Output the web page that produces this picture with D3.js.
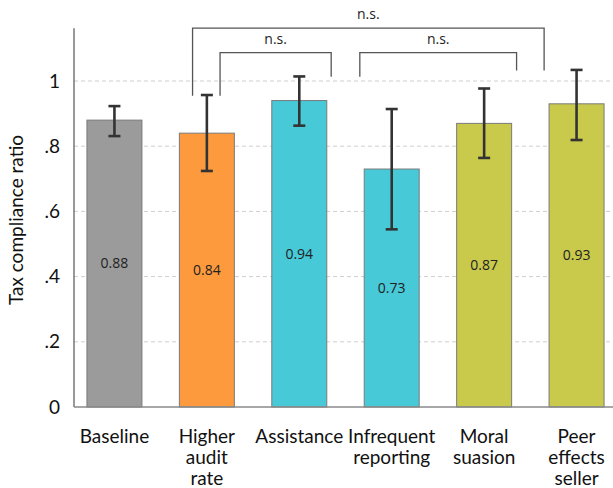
<!DOCTYPE html>
<html>
<head>
<meta charset="utf-8">
<script src="https://cdn.jsdelivr.net/npm/d3@7"></script>
<style>
  html, body { margin: 0; padding: 0; background: #fff; }
  svg { display: block; }
</style>
</head>
<body>
<svg id="chart" width="613" height="488"></svg>
<script>
// Treatment groups and their mean compliance ratios
const categories = ["Baseline", "Higher audit rate", "Assistance", "Infrequent reporting", "Moral suasion", "Peer effects seller"];
const categoryLines = [["Baseline"], ["Higher", "audit", "rate"], ["Assistance"], ["Infrequent", "reporting"], ["Moral", "suasion"], ["Peer", "effects", "seller"]];
const means = [0.88, 0.84, 0.94, 0.73, 0.87, 0.93];
const ciLow = [0.831, 0.724, 0.863, 0.545, 0.764, 0.819];
const ciHigh = [0.923, 0.957, 1.014, 0.914, 0.977, 1.034];
const groupColors = ["#9b9b9b", "#fd9a3d", "#47c9d8", "#47c9d8", "#c9c94c", "#c9c94c"];
const yTicks = [0, 0.2, 0.4, 0.6, 0.8, 1];
const yTickLabels = ["0", ".2", ".4", ".6", ".8", "1"];

// Significance brackets between groups (leg ends and bar height in data units)
const brackets = [
  { from: "Higher audit rate", fromSide: -0.26, to: "Peer effects seller", toSide: -0.59, top: 1.162, leftEnd: 0.955, rightEnd: 1.032, label: "n.s." },
  { from: "Higher audit rate", fromSide: 0.24, to: "Assistance", toSide: 0.58, top: 1.087, leftEnd: 0.955, rightEnd: 1.013, label: "n.s." },
  { from: "Infrequent reporting", fromSide: -0.58, to: "Moral suasion", toSide: 0.59, top: 1.087, leftEnd: 1.013, rightEnd: 1.032, label: "n.s." }
];

const svg = d3.select("#chart");

const x = d3.scaleBand()
  .domain(categories)
  .range([74, 617])
  .paddingInner(0.405)
  .paddingOuter(0.14);

const y = d3.scaleLinear().domain([0, 1]).range([407, 81]);

// Dashed horizontal gridlines
svg.append("g")
  .selectAll("line")
  .data(yTicks.filter(d => d > 0))
  .join("line")
  .attr("x1", 74).attr("x2", 613)
  .attr("y1", d => y(d)).attr("y2", d => y(d))
  .attr("stroke", "#cfcfcf")
  .attr("stroke-width", 1)
  .attr("stroke-dasharray", "4,3");

// Y axis
const yAxis = d3.axisLeft(y)
  .tickValues(yTicks)
  .tickFormat((d, i) => yTickLabels[i])
  .tickSize(0)
  .tickPadding(14);
const gy = svg.append("g").attr("transform", "translate(74,0)").call(yAxis);
gy.select(".domain").remove();
gy.selectAll("text")
  .attr("font-family", "Lato, 'Open Sans', sans-serif")
  .attr("font-size", 19)
  .attr("fill", "#111");
svg.append("line")
  .attr("x1", 74).attr("x2", 74)
  .attr("y1", y(1.162)).attr("y2", y(0))
  .attr("stroke", "#555").attr("stroke-width", 1.2);

// Bars
const bw = x.bandwidth();
svg.append("g")
  .selectAll("rect")
  .data(categories)
  .join("rect")
  .attr("x", d => x(d))
  .attr("width", bw)
  .attr("y", (d, i) => y(means[i]))
  .attr("height", (d, i) => y(0) - y(means[i]))
  .attr("fill", (d, i) => groupColors[i])
  .attr("stroke", "#7a7a7a")
  .attr("stroke-width", 1);

// X axis baseline
svg.append("line")
  .attr("x1", 74).attr("x2", 613)
  .attr("y1", y(0)).attr("y2", y(0))
  .attr("stroke", "#8a8a8a").attr("stroke-width", 1.6);

// Error bars
const eb = svg.append("g").attr("stroke", "#333").attr("stroke-width", 2.6);
categories.forEach((c, i) => {
  const cx = x(c) + bw / 2;
  eb.append("line").attr("x1", cx).attr("x2", cx).attr("y1", y(ciLow[i])).attr("y2", y(ciHigh[i]));
  eb.append("line").attr("x1", cx - 6).attr("x2", cx + 6).attr("y1", y(ciLow[i])).attr("y2", y(ciLow[i]));
  eb.append("line").attr("x1", cx - 6).attr("x2", cx + 6).attr("y1", y(ciHigh[i])).attr("y2", y(ciHigh[i]));
});

// Value labels in the middle of each bar
svg.append("g")
  .selectAll("text")
  .data(categories)
  .join("text")
  .attr("x", d => x(d) + bw / 2)
  .attr("y", (d, i) => y(means[i] / 2))
  .attr("dy", "0.35em")
  .attr("text-anchor", "middle")
  .attr("font-family", "'Open Sans', sans-serif")
  .attr("font-size", 14)
  .attr("fill", "#222")
  .text((d, i) => d3.format(".2f")(means[i]));

// Category labels
const cl = svg.append("g")
  .attr("font-family", "Lato, 'Open Sans', sans-serif")
  .attr("font-size", 19)
  .attr("fill", "#111")
  .attr("text-anchor", "middle");
categories.forEach((c, i) => {
  const t = cl.append("text").attr("x", x(c) + bw / 2).attr("y", 443);
  categoryLines[i].forEach((line, j) => {
    t.append("tspan").attr("x", x(c) + bw / 2).attr("dy", j === 0 ? 0 : 21).text(line);
  });
});

// Y axis title
svg.append("text")
  .attr("transform", "translate(23,220) rotate(-90)")
  .attr("text-anchor", "middle")
  .attr("font-family", "Lato, 'Open Sans', sans-serif")
  .attr("font-size", 19)
  .attr("fill", "#111")
  .text("Tax compliance ratio");

// Significance brackets
const bg = svg.append("g");
brackets.forEach(b => {
  const x1 = x(b.from) + bw / 2 + b.fromSide * bw;
  const x2 = x(b.to) + bw / 2 + b.toSide * bw;
  const path = d3.path();
  path.moveTo(x1, y(b.leftEnd));
  path.lineTo(x1, y(b.top));
  path.lineTo(x2, y(b.top));
  path.lineTo(x2, y(b.rightEnd));
  bg.append("path")
    .attr("d", path.toString())
    .attr("fill", "none")
    .attr("stroke", "#555")
    .attr("stroke-width", 1.3);
  bg.append("text")
    .attr("x", (x1 + x2) / 2)
    .attr("y", y(b.top) - 9)
    .attr("text-anchor", "middle")
    .attr("font-family", "'Open Sans', sans-serif")
    .attr("font-size", 14)
    .attr("fill", "#222")
    .text(b.label);
});
</script>
</body>
</html>
